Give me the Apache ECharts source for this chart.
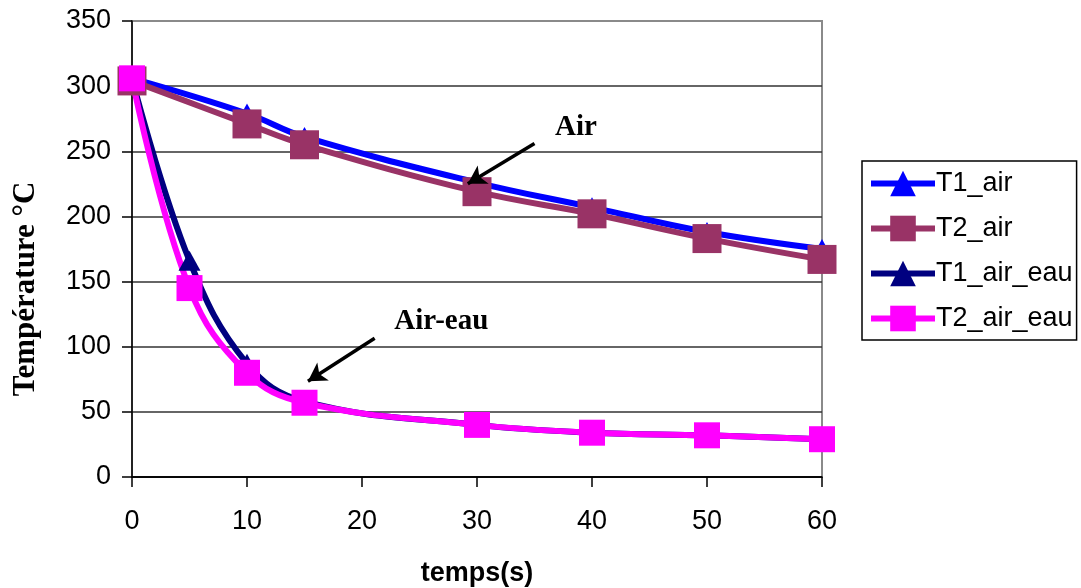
<!DOCTYPE html>
<html>
<head>
<meta charset="utf-8">
<script src="https://cdn.jsdelivr.net/npm/echarts@6/dist/echarts.min.js"></script>
<style>
html,body{margin:0;padding:0;background:#fff;}
#c{width:1081px;height:588px;}
</style>
</head>
<body>
<div id="c"></div>
<script>
var timeAir = [0, 10, 15, 30, 40, 50, 60];
var timeEau = [0, 5, 10, 15, 30, 40, 50, 60];
var T1_air = [306, 279, 261, 226, 207, 188, 175];
var T2_air = [304, 271, 255, 219, 202, 183, 167];
var T1_air_eau = [306, 166, 87, 58, 40, 34, 32, 29];
var T2_air_eau = [306, 145, 80, 57, 40, 34, 32, 29];
var xTicks = [0, 10, 20, 30, 40, 50, 60];
var yTicks = [0, 50, 100, 150, 200, 250, 300, 350];

function pairs(xs, ys) { return xs.map(function (x, i) { return [x, ys[i]]; }); }

var chart = echarts.init(document.getElementById('c'));
var sans = 'Liberation Sans';
var serif = 'Liberation Serif';

chart.setOption({
  animation: false,
  backgroundColor: '#fff',
  grid: { left: 132, right: 259, top: 21, bottom: 111, outerBoundsMode: 'none', containLabel: false,
    show: true, borderColor: '#8a8a8a', borderWidth: 2, backgroundColor: 'transparent' },
  xAxis: {
    type: 'value', min: xTicks[0], max: xTicks[xTicks.length - 1], interval: 10,
    name: 'temps(s)', nameLocation: 'middle', nameGap: 83,
    nameTextStyle: { fontFamily: sans, fontWeight: 'bold', fontSize: 27, color: '#000' },
    axisLine: { lineStyle: { color: '#000', width: 1.5 } },
    axisTick: { show: true, length: 10, inside: false, lineStyle: { color: '#000', width: 1.5 } },
    axisLabel: { fontFamily: sans, fontSize: 27, color: '#000', margin: 31 },
    splitLine: { show: false }
  },
  yAxis: {
    type: 'value', min: yTicks[0], max: yTicks[yTicks.length - 1], interval: 50,
    axisLine: { show: true, lineStyle: { color: '#000', width: 1.5 } },
    axisTick: { show: true, length: 10, lineStyle: { color: '#000', width: 1.5 } },
    axisLabel: { fontFamily: sans, fontSize: 27, color: '#000', margin: 21 },
    splitLine: { show: true, lineStyle: { color: ['#000', '#333', '#333', '#333', '#333', '#333', '#333', '#8a8a8a'], width: 1.5 } }
  },
  legend: {
    orient: 'vertical', left: 862, top: 161,
    padding: [9, 4, 8, 6], itemGap: 18, itemWidth: 64, itemHeight: 32,
    borderColor: '#000', borderWidth: 1.5, backgroundColor: '#fff',
    lineStyle: { width: 6 },
    textStyle: { fontFamily: sans, fontSize: 27, color: '#000', padding: [0, 0, 0, -4] },
    data: ['T1_air', 'T2_air', 'T1_air_eau', 'T2_air_eau']
  },
  graphic: [{
    type: 'text', x: 26, y: 289, rotation: Math.PI / 2,
    style: { text: 'Température °C', font: 'bold 31px "Liberation Serif"', fill: '#000', align: 'center', verticalAlign: 'middle' }
  }],
  series: [
    { name: 'T1_air', type: 'line', smooth: 0.4, data: pairs(timeAir, T1_air),
      symbol: 'triangle', symbolSize: [22, 20], color: '#0000ff',
      lineStyle: { width: 6, color: '#0000ff' }, itemStyle: { color: '#0000ff' } },
    { name: 'T2_air', type: 'line', smooth: 0.4, data: pairs(timeAir, T2_air),
      symbol: 'rect', symbolSize: 29, color: '#993366',
      lineStyle: { width: 6, color: '#993366' }, itemStyle: { color: '#993366' } },
    { name: 'T1_air_eau', type: 'line', smooth: 0.4, data: pairs(timeEau, T1_air_eau),
      symbol: 'triangle', symbolSize: [22, 20], color: '#000080',
      lineStyle: { width: 6, color: '#000080' }, itemStyle: { color: '#000080' } },
    { name: 'T2_air_eau', type: 'line', smooth: 0.4, data: pairs(timeEau, T2_air_eau),
      symbol: 'rect', symbolSize: 26, color: '#ff00ff',
      lineStyle: { width: 6, color: '#ff00ff' }, itemStyle: { color: '#ff00ff' },
      markLine: {
        silent: true, symbol: ['none', 'arrow'], symbolSize: [16, 18],
        lineStyle: { color: '#000', width: 3.5, type: 'solid' }, label: { show: false },
        data: [
          [{ coord: [35.0, 256] }, { coord: [29.2, 225] }],
          [{ coord: [21.1, 106.5] }, { coord: [15.3, 73.5] }]
        ]
      },
      markPoint: {
        silent: true, symbol: 'rect', symbolSize: 1, itemStyle: { color: 'rgba(0,0,0,0)' },
        label: { show: true, position: 'inside', color: '#000', fontFamily: serif, fontWeight: 'bold', fontSize: 29 },
        data: [
          { coord: [38.6, 268], label: { formatter: 'Air' } },
          { coord: [26.9, 119], label: { formatter: 'Air-eau' } }
        ]
      }
    }
  ]
});
</script>
</body>
</html>
